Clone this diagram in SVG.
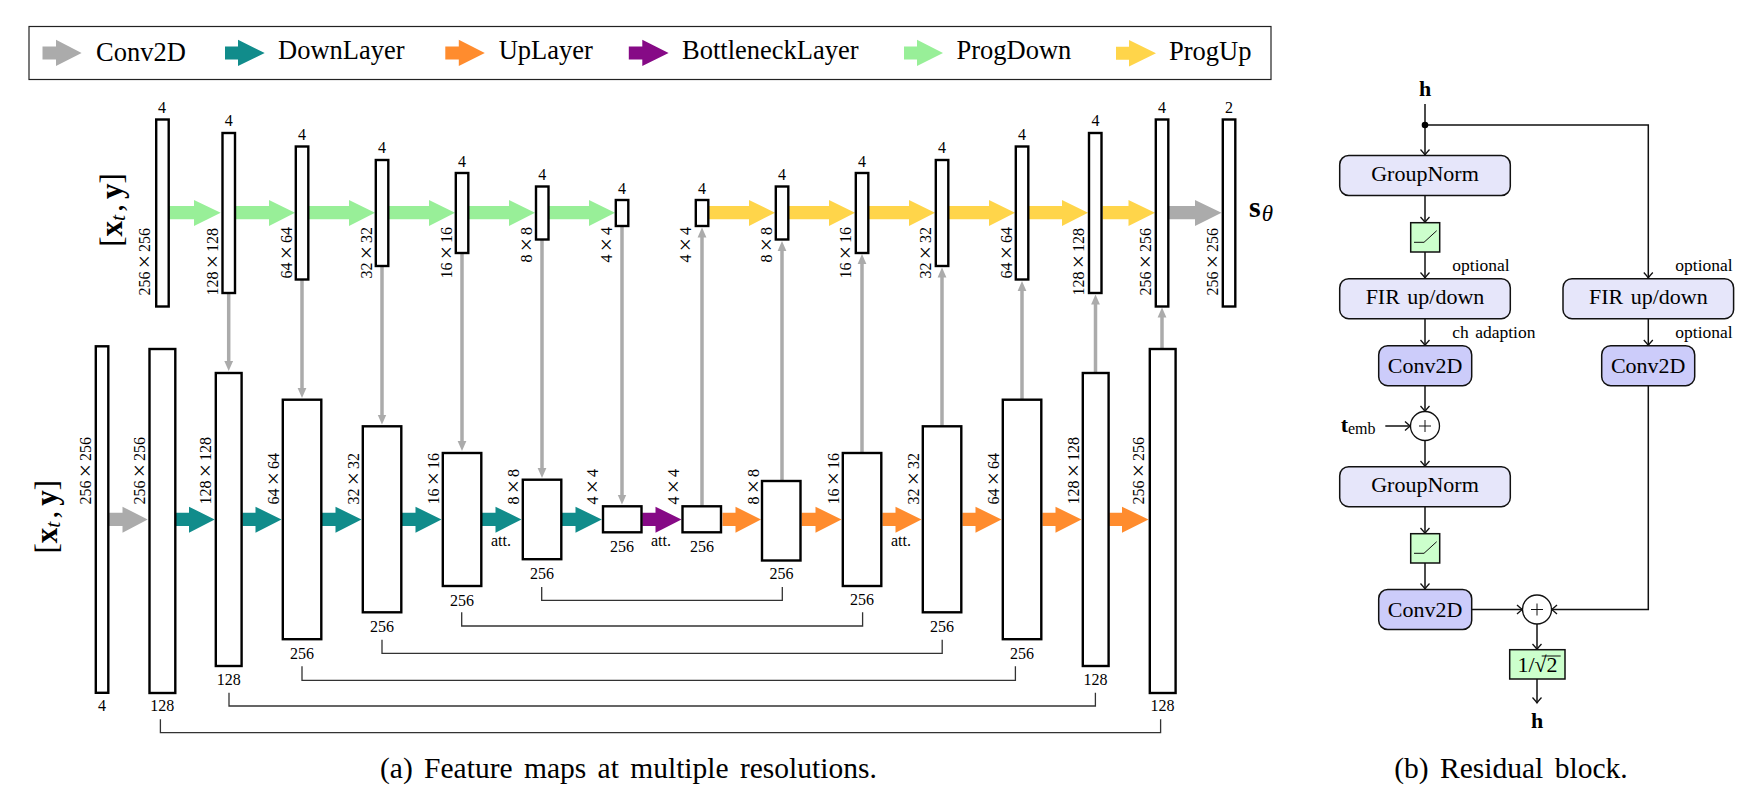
<svg xmlns="http://www.w3.org/2000/svg" width="1754" height="792" viewBox="0 0 1754 792">
<style>
text{font-family:"Liberation Serif","Times New Roman",serif;fill:#000}
.bar{fill:#fff;stroke:#000;stroke-width:2.4}
.n{font-size:16px;text-anchor:middle}
.e{font-size:16px;text-anchor:end}
.s{font-size:16px;text-anchor:start}
.x{font-size:24px;baseline-shift:-1.5px}
.leg{font-size:26.5px}
.cap{font-size:29.5px;word-spacing:4px}
.gn{fill:#e6e6fa;stroke:#111;stroke-width:1.5}
.cv{fill:#ccccfa;stroke:#111;stroke-width:1.5}
.gr{fill:#ccffcc;stroke:#111;stroke-width:1.5}
.c{fill:#fff;stroke:#111;stroke-width:1.3}
.t{font-size:22px;text-anchor:middle}
.o{font-size:17.5px}
.b{font-size:31px}
.conv{fill:#ababab}.down{fill:#118c8b}.up{fill:#ff8c2e}.bot{fill:#860a86}.pd{fill:#98ef98}.pu{fill:#ffd54a}
.thin{stroke:#ababab;stroke-width:3.5;fill:none;marker-end:url(#g)}
.skip{stroke:#333;stroke-width:1.3;fill:none}
.a{stroke:#111;stroke-width:1.5;fill:none;marker-end:url(#o)}
.l{stroke:#111;stroke-width:1.5;fill:none}
.ln{stroke:#111;stroke-width:1;fill:none}
</style>
<defs>
<marker id="g" markerUnits="userSpaceOnUse" markerWidth="12" markerHeight="12" viewBox="0 -6 12 12" refX="1" refY="0" orient="auto"><path d="M0,-4.4L10,0L0,4.4Z" fill="#ababab"/></marker>
<marker id="o" markerUnits="userSpaceOnUse" markerWidth="10" markerHeight="12" viewBox="-8 -6 10 12" refX="0" refY="0" orient="auto"><path d="M-5.5,-4.5Q-2,-1.2 0,0Q-2,1.2 -5.5,4.5" fill="none" stroke="#111" stroke-width="1.3"/></marker>
</defs>

<g id="legend">
<rect x="29" y="26.5" width="1242" height="53" fill="#fff" stroke="#222" stroke-width="1.2"/>
<path class="conv" d="M42.5 46.5H56V39.7L81.6 53L56 66V59.5H42.5Z"/>
<text class="leg" x="96" y="61">Conv2D</text>
<path class="down" d="M225 46.5H238V39.7L264.7 53L238 66V59.5H225Z"/>
<text class="leg" x="278" y="59">DownLayer</text>
<path class="up" d="M445.3 46.5H458.8V39.7L484.8 53L458.8 66V59.5H445.3Z"/>
<text class="leg" x="498.7" y="59">UpLayer</text>
<path class="bot" d="M628.8 46.5H642.3V39.7L668.6 53L642.3 66V59.5H628.8Z"/>
<text class="leg" x="682" y="59">BottleneckLayer</text>
<path class="pd" d="M904 46.5H917V39.7L943 53L917 66V59.5H904Z"/>
<text class="leg" x="956.5" y="59">ProgDown</text>
<path class="pu" d="M1116 46.8H1129V40L1156 53.3L1129 66.5V59.8H1116Z"/>
<text class="leg" x="1169" y="60">ProgUp</text>
</g>

<g id="connectors">
<path class="pd" d="M169 206H194V200L220.7 212.7L194 226V219.3H169Z"/>
<path class="pd" d="M236 206H269V200L295 212.7L269 226V219.3H236Z"/>
<path class="pd" d="M309 206H349V200L375 212.7L349 226V219.3H309Z"/>
<path class="pd" d="M389 206H429V200L455 212.7L429 226V219.3H389Z"/>
<path class="pd" d="M469 206H509V200L535 212.7L509 226V219.3H469Z"/>
<path class="pd" d="M549 206H589V200L615 212.7L589 226V219.3H549Z"/>
<path class="pu" d="M709 206H749V200L775 212.7L749 226V219.3H709Z"/>
<path class="pu" d="M789 206H829V200L855 212.7L829 226V219.3H789Z"/>
<path class="pu" d="M869 206H909V200L935 212.7L909 226V219.3H869Z"/>
<path class="pu" d="M949 206H989V200L1015 212.7L989 226V219.3H949Z"/>
<path class="pu" d="M1029 206H1062V200L1088 212.7L1062 226V219.3H1029Z"/>
<path class="pu" d="M1102.5 206H1128.5V200L1155 212.7L1128.5 226V219.3H1102.5Z"/>
<path class="conv" d="M1169 206H1195V200L1221.5 212.7L1195 226V219.3H1169Z"/>

<path class="conv" d="M109 512.7H122.5V506.7L147.7 519.5L122.5 532.7V526H109Z"/>
<path class="down" d="M176 512.7H189V506.7L214.7 519.5L189 532.7V526H176Z"/>
<path class="down" d="M242.4 512.7H255.5V506.7L281.5 519.5L255.5 532.7V526H242.4Z"/>
<path class="down" d="M322 512.7H335.5V506.7L361.5 519.5L335.5 532.7V526H322Z"/>
<path class="down" d="M402 512.7H415.5V506.7L441.5 519.5L415.5 532.7V526H402Z"/>
<path class="down" d="M482 512.7H495.5V506.7L521.5 519.5L495.5 532.7V526H482Z"/>
<path class="down" d="M562 512.7H575.5V506.7L601.8 519.5L575.5 532.7V526H562Z"/>
<path class="bot" d="M642.3 512.7H655.5V506.7L681.5 519.5L655.5 532.7V526H642.3Z"/>
<path class="up" d="M722.5 512.7H735.5V506.7L761 519.5L735.5 532.7V526H722.5Z"/>
<path class="up" d="M801.6 512.7H815.5V506.7L841.5 519.5L815.5 532.7V526H801.6Z"/>
<path class="up" d="M882.4 512.7H895.5V506.7L921.5 519.5L895.5 532.7V526H882.4Z"/>
<path class="up" d="M962.4 512.7H975.5V506.7L1001.5 519.5L975.5 532.7V526H962.4Z"/>
<path class="up" d="M1042.4 512.7H1055.5V506.7L1081.5 519.5L1055.5 532.7V526H1042.4Z"/>
<path class="up" d="M1109.3 512.7H1122V506.7L1148.5 519.5L1122 532.7V526H1109.3Z"/>

<path class="thin" d="M228.7 293.5V362"/>
<path class="thin" d="M302 280V389"/>
<path class="thin" d="M382 266.5V415.5"/>
<path class="thin" d="M462 253V442"/>
<path class="thin" d="M542 240V469"/>
<path class="thin" d="M622 226.5V495.5"/>
<path class="thin" d="M702 505.7V236.5"/>
<path class="thin" d="M782 480.5V250"/>
<path class="thin" d="M862 452.5V263"/>
<path class="thin" d="M942 425.7V276.5"/>
<path class="thin" d="M1022 399V290"/>
<path class="thin" d="M1095.5 372.5V303.5"/>
<path class="thin" d="M1162 348.5V316.5"/>

<path class="skip" d="M541.7 587V600.3H782.3V587"/>
<path class="skip" d="M461.7 612.3V626H862.6V612.3"/>
<path class="skip" d="M382 639.7V653.3H942.2V639.7"/>
<path class="skip" d="M302 666.3V680.3H1015.4V666.3"/>
<path class="skip" d="M229 692.7V706H1095.4V692.7"/>
<path class="skip" d="M160.4 719.3V732.7H1160.6V719.3"/>

<path class="l" d="M1425 104V125"/>
<path class="a" d="M1425 125V155"/>
<path class="a" d="M1425 125H1648.3V278"/>
<path class="a" d="M1425 195.7V222.5"/>
<path class="a" d="M1425 252V278"/>
<path class="a" d="M1425 318.7V345.5"/>
<path class="a" d="M1648.3 318.7V345.5"/>
<path class="a" d="M1425 385.7V411.5"/>
<path class="a" d="M1385.3 426H1410.5"/>
<path class="a" d="M1425 440.5V466.5"/>
<path class="a" d="M1425 506.7V533.5"/>
<path class="a" d="M1425 563V589"/>
<path class="a" d="M1471.7 609.5H1522.5"/>
<path class="a" d="M1648.3 385.7V609.5H1551.5"/>
<path class="a" d="M1537 624V649.5"/>
<path class="a" d="M1537 679V703"/>
</g>

<g id="input-top"><text transform="translate(122,210) rotate(-90)" text-anchor="middle" class="b"><tspan>[</tspan><tspan font-weight="bold">x</tspan><tspan font-style="italic" font-size="22" dy="3">t</tspan><tspan dy="-3" dx="3">,</tspan><tspan dx="5" font-weight="bold">y</tspan><tspan>]</tspan></text></g>
<g id="input-bottom"><text transform="translate(57,516.7) rotate(-90)" text-anchor="middle" class="b"><tspan>[</tspan><tspan font-weight="bold">x</tspan><tspan font-style="italic" font-size="22" dy="3">t</tspan><tspan dy="-3" dx="3">,</tspan><tspan dx="5" font-weight="bold">y</tspan><tspan>]</tspan></text></g>
<g id="output-s"><text x="1249" y="216.7" font-size="30" font-weight="bold">s<tspan font-style="italic" font-weight="normal" font-size="23" dy="4" dx="1">θ</tspan></text></g>

<g id="t1"><rect class="bar" x="156.2" y="119.5" width="12.5" height="187"/><text class="n" x="162" y="113">4</text><text class="e" transform="translate(150.3,228) rotate(-90)">256<tspan class="x" dx="3">×</tspan><tspan dx="3">256</tspan></text></g>
<g id="t2"><rect class="bar" x="222.5" y="133" width="12.5" height="160"/><text class="n" x="228.7" y="126">4</text><text class="e" transform="translate(218,228) rotate(-90)">128<tspan class="x" dx="3">×</tspan><tspan dx="3">128</tspan></text></g>
<g id="t3"><rect class="bar" x="295.8" y="146.5" width="12.5" height="133"/><text class="n" x="302" y="140">4</text><text class="e" transform="translate(291.7,227) rotate(-90)">64<tspan class="x" dx="3">×</tspan><tspan dx="3">64</tspan></text></g>
<g id="t4"><rect class="bar" x="375.8" y="160" width="12.5" height="106"/><text class="n" x="382" y="153">4</text><text class="e" transform="translate(372,227) rotate(-90)">32<tspan class="x" dx="3">×</tspan><tspan dx="3">32</tspan></text></g>
<g id="t5"><rect class="bar" x="455.8" y="173" width="12.5" height="80"/><text class="n" x="462" y="167">4</text><text class="e" transform="translate(451.6,227) rotate(-90)">16<tspan class="x" dx="3">×</tspan><tspan dx="3">16</tspan></text></g>
<g id="t6"><rect class="bar" x="536" y="186.5" width="12.5" height="53"/><text class="n" x="542.3" y="180">4</text><text class="e" transform="translate(532,227) rotate(-90)">8<tspan class="x" dx="3">×</tspan><tspan dx="3">8</tspan></text></g>
<g id="t7"><rect class="bar" x="615.8" y="200" width="12.5" height="26"/><text class="n" x="622" y="193.5">4</text><text class="e" transform="translate(611.5,227) rotate(-90)">4<tspan class="x" dx="3">×</tspan><tspan dx="3">4</tspan></text></g>
<g id="t8"><rect class="bar" x="695.8" y="200" width="12.5" height="26"/><text class="n" x="702" y="193.5">4</text><text class="e" transform="translate(691.3,227) rotate(-90)">4<tspan class="x" dx="3">×</tspan><tspan dx="3">4</tspan></text></g>
<g id="t9"><rect class="bar" x="775.8" y="186.5" width="12.5" height="53"/><text class="n" x="782" y="180">4</text><text class="e" transform="translate(771.7,227) rotate(-90)">8<tspan class="x" dx="3">×</tspan><tspan dx="3">8</tspan></text></g>
<g id="t10"><rect class="bar" x="855.8" y="173" width="12.5" height="80"/><text class="n" x="862" y="167">4</text><text class="e" transform="translate(851.3,227) rotate(-90)">16<tspan class="x" dx="3">×</tspan><tspan dx="3">16</tspan></text></g>
<g id="t11"><rect class="bar" x="935.8" y="160" width="12.5" height="106"/><text class="n" x="942" y="153">4</text><text class="e" transform="translate(931.3,227) rotate(-90)">32<tspan class="x" dx="3">×</tspan><tspan dx="3">32</tspan></text></g>
<g id="t12"><rect class="bar" x="1015.8" y="146.5" width="12.5" height="133"/><text class="n" x="1022" y="140">4</text><text class="e" transform="translate(1011.6,227) rotate(-90)">64<tspan class="x" dx="3">×</tspan><tspan dx="3">64</tspan></text></g>
<g id="t13"><rect class="bar" x="1089" y="133" width="12.5" height="160"/><text class="n" x="1095.5" y="126">4</text><text class="e" transform="translate(1084.4,228) rotate(-90)">128<tspan class="x" dx="3">×</tspan><tspan dx="3">128</tspan></text></g>
<g id="t14"><rect class="bar" x="1155.8" y="119.5" width="12.5" height="187"/><text class="n" x="1162" y="113">4</text><text class="e" transform="translate(1151,228) rotate(-90)">256<tspan class="x" dx="3">×</tspan><tspan dx="3">256</tspan></text></g>
<g id="t15"><rect class="bar" x="1222.8" y="119.5" width="12.5" height="187"/><text class="n" x="1229" y="113">2</text><text class="e" transform="translate(1218.3,228) rotate(-90)">256<tspan class="x" dx="3">×</tspan><tspan dx="3">256</tspan></text></g>

<g id="b1"><rect class="bar" x="95.8" y="346.3" width="12.5" height="346.5"/><text class="n" x="102" y="711">4</text><text class="s" transform="translate(91,504.5) rotate(-90)">256<tspan class="x" dx="3">×</tspan><tspan dx="3">256</tspan></text></g>
<g id="b2"><rect class="bar" x="149.5" y="349" width="25.8" height="344"/><text class="n" x="162.3" y="711">128</text><text class="s" transform="translate(144.8,504.5) rotate(-90)">256<tspan class="x" dx="3">×</tspan><tspan dx="3">256</tspan></text></g>
<g id="b3"><rect class="bar" x="215.8" y="373" width="25.8" height="293"/><text class="n" x="228.7" y="685.3">128</text><text class="s" transform="translate(211.3,504.5) rotate(-90)">128<tspan class="x" dx="3">×</tspan><tspan dx="3">128</tspan></text></g>
<g id="b4"><rect class="bar" x="282.8" y="399.7" width="38.5" height="239.5"/><text class="n" x="302" y="659">256</text><text class="s" transform="translate(278.6,504.5) rotate(-90)">64<tspan class="x" dx="3">×</tspan><tspan dx="3">64</tspan></text></g>
<g id="b5"><rect class="bar" x="362.8" y="426.3" width="38.5" height="186"/><text class="n" x="382" y="632">256</text><text class="s" transform="translate(358.6,504.5) rotate(-90)">32<tspan class="x" dx="3">×</tspan><tspan dx="3">32</tspan></text></g>
<g id="b6"><rect class="bar" x="442.8" y="453" width="38.5" height="133"/><text class="n" x="462" y="606">256</text><text class="s" transform="translate(438.6,504.5) rotate(-90)">16<tspan class="x" dx="3">×</tspan><tspan dx="3">16</tspan></text></g>
<g id="b7"><rect class="bar" x="522.8" y="479.7" width="38.5" height="79.5"/><text class="n" x="542" y="579">256</text><text class="s" transform="translate(518.5,504.5) rotate(-90)">8<tspan class="x" dx="3">×</tspan><tspan dx="3">8</tspan></text></g>
<g id="b8"><rect class="bar" x="603" y="506.3" width="38.5" height="26"/><text class="n" x="622" y="552">256</text><text class="s" transform="translate(598,504.5) rotate(-90)">4<tspan class="x" dx="3">×</tspan><tspan dx="3">4</tspan></text></g>
<g id="b9"><rect class="bar" x="682.5" y="506.3" width="38.5" height="26"/><text class="n" x="702" y="552">256</text><text class="s" transform="translate(678.7,504.5) rotate(-90)">4<tspan class="x" dx="3">×</tspan><tspan dx="3">4</tspan></text></g>
<g id="b10"><rect class="bar" x="762" y="481" width="38.5" height="79.5"/><text class="n" x="781.5" y="579">256</text><text class="s" transform="translate(758.7,504.5) rotate(-90)">8<tspan class="x" dx="3">×</tspan><tspan dx="3">8</tspan></text></g>
<g id="b11"><rect class="bar" x="842.8" y="453" width="38.5" height="133"/><text class="n" x="862" y="605">256</text><text class="s" transform="translate(838.7,504.5) rotate(-90)">16<tspan class="x" dx="3">×</tspan><tspan dx="3">16</tspan></text></g>
<g id="b12"><rect class="bar" x="922.8" y="426.3" width="38.5" height="186"/><text class="n" x="942" y="632">256</text><text class="s" transform="translate(918.6,504.5) rotate(-90)">32<tspan class="x" dx="3">×</tspan><tspan dx="3">32</tspan></text></g>
<g id="b13"><rect class="bar" x="1002.8" y="399.7" width="38.5" height="239.5"/><text class="n" x="1022" y="659">256</text><text class="s" transform="translate(998.6,504.5) rotate(-90)">64<tspan class="x" dx="3">×</tspan><tspan dx="3">64</tspan></text></g>
<g id="b14"><rect class="bar" x="1082.8" y="373" width="25.8" height="293"/><text class="n" x="1095.5" y="685.3">128</text><text class="s" transform="translate(1078.6,504.5) rotate(-90)">128<tspan class="x" dx="3">×</tspan><tspan dx="3">128</tspan></text></g>
<g id="b15"><rect class="bar" x="1149.8" y="349" width="25.8" height="344"/><text class="n" x="1162.5" y="711">128</text><text class="s" transform="translate(1144,504.5) rotate(-90)">256<tspan class="x" dx="3">×</tspan><tspan dx="3">256</tspan></text></g>

<g id="att-labels">
<text class="n" x="501" y="546">att.</text>
<text class="n" x="661" y="546">att.</text>
<text class="n" x="901" y="546">att.</text>
</g>

<g id="h-in"><text class="t" x="1425" y="95.7" font-weight="bold">h</text><circle cx="1425" cy="125" r="3.3" fill="#000"/></g>
<g id="groupnorm1"><rect class="gn" x="1339.7" y="155.5" width="170.6" height="40" rx="9"/><text class="t" x="1425" y="180.7">GroupNorm</text></g>
<g id="act1"><rect class="gr" x="1410.7" y="222.7" width="29" height="29.3"/><path class="ln" d="M1414 242.3H1424L1436.7 230.7"/></g>
<g id="fir1"><rect class="gn" x="1339.7" y="278.7" width="170.6" height="40" rx="9"/><text class="t" x="1425" y="304" word-spacing="2">FIR up/down</text><text class="o" x="1452.3" y="270.7">optional</text></g>
<g id="conv1"><rect class="cv" x="1378.7" y="345.7" width="93" height="40" rx="9"/><text class="t" x="1425" y="372.7">Conv2D</text><text class="o" x="1452.3" y="337.7" word-spacing="2">ch adaption</text></g>
<g id="fir2"><rect class="gn" x="1563" y="278.7" width="170.6" height="40" rx="9"/><text class="t" x="1648.3" y="304" word-spacing="2">FIR up/down</text><text class="o" x="1675.3" y="270.7">optional</text></g>
<g id="conv2"><rect class="cv" x="1601.7" y="345.7" width="93" height="40" rx="9"/><text class="t" x="1648.2" y="372.7">Conv2D</text><text class="o" x="1675.3" y="337.7">optional</text></g>
<g id="temb"><text x="1340.7" y="431.7" font-size="22" font-weight="bold">t<tspan font-size="16" font-weight="normal" dy="2.5">emb</tspan></text></g>
<g id="plus1"><circle class="c" cx="1425" cy="426" r="14.5"/><path class="ln" d="M1419 426H1431M1425 420V432"/></g>
<g id="groupnorm2"><rect class="gn" x="1339.7" y="466.7" width="170.6" height="40" rx="9"/><text class="t" x="1425" y="491.7">GroupNorm</text></g>
<g id="act2"><rect class="gr" x="1410.7" y="533.7" width="29" height="29.3"/><path class="ln" d="M1414 553.3H1424L1436.7 541.7"/></g>
<g id="conv3"><rect class="cv" x="1378.7" y="589.5" width="93" height="40" rx="9"/><text class="t" x="1425" y="616.7">Conv2D</text></g>
<g id="plus2"><circle class="c" cx="1537" cy="609.5" r="14.5"/><path class="ln" d="M1531 609.5H1543M1537 603.5V615.5"/></g>
<g id="scale"><rect class="gr" x="1509.7" y="649.7" width="55.3" height="29.3"/><text class="t" x="1537.5" y="671.7">1/√2</text><path class="ln" d="M1541.7 656H1560.7"/></g>
<g id="h-out"><text class="t" x="1537" y="727.7" font-weight="bold">h</text></g>

<g id="captions">
<text class="cap" x="380" y="778">(a) Feature maps at multiple resolutions.</text>
<text class="cap" x="1394.3" y="778">(b) Residual block.</text>
</g>
</svg>
